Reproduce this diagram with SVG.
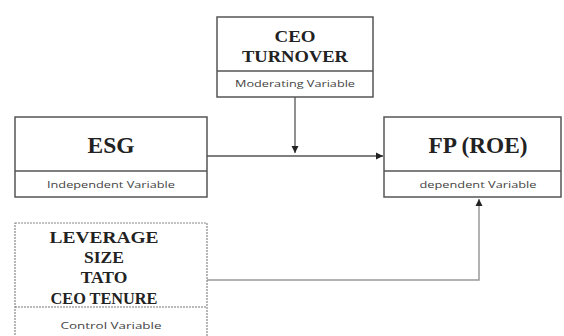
<svg xmlns="http://www.w3.org/2000/svg" width="564" height="336" viewBox="0 0 564 336">
<style>
.box{fill:#fff;stroke:#555;stroke-width:1.5}
.cbox{fill:#fff;stroke:#888;stroke-width:1.2;stroke-dasharray:2 1}
.div{stroke:#555;stroke-width:1.5}
.cdiv{stroke:#777;stroke-width:1.2;stroke-dasharray:2 1}
.t{font-family:"Liberation Serif",serif;font-weight:bold;fill:#222;text-anchor:middle}
.s{font-family:"Open Sans","Liberation Sans",sans-serif;font-size:9.5px;fill:#444;text-anchor:middle}
.c{fill:none;stroke:#555;stroke-width:1.3}
.cg{fill:none;stroke:#999;stroke-width:1.5}
</style>
<defs>
<marker id="ah" markerWidth="8" markerHeight="8" refX="7" refY="4" orient="auto" markerUnits="userSpaceOnUse">
<path d="M0,0.5 L7,4 L0,7.5 Z" fill="#222"/>
</marker>
</defs>
<g id="connectors">
<path class="c" d="M207,156 H383" marker-end="url(#ah)"/>
<path class="c" d="M295,97 V153" marker-end="url(#ah)"/>
<path class="cg" d="M207,280 H479 V199" marker-end="url(#ah)"/>
</g>
<g id="ceo_turnover">
<rect class="box" x="217" y="17" width="156" height="80"/>
<line class="div" x1="217" y1="71" x2="373" y2="71"/>
<text class="t" x="295" y="42" font-size="17.5" textLength="41" lengthAdjust="spacingAndGlyphs">CEO</text>
<text class="t" x="295" y="62" font-size="17.5" textLength="106" lengthAdjust="spacingAndGlyphs">TURNOVER</text>
<text class="s" x="295" y="87" textLength="120" lengthAdjust="spacingAndGlyphs">Moderating Variable</text>
</g>
<g id="esg">
<rect class="box" x="15" y="117" width="192" height="80"/>
<line class="div" x1="15" y1="171" x2="207" y2="171"/>
<text class="t" x="111" y="153" font-size="22.5" textLength="47" lengthAdjust="spacingAndGlyphs">ESG</text>
<text class="s" x="111" y="188" textLength="128" lengthAdjust="spacingAndGlyphs">Independent Variable</text>
</g>
<g id="fp_roe">
<rect class="box" x="384" y="117" width="177" height="80"/>
<line class="div" x1="384" y1="171" x2="561" y2="171"/>
<text class="t" x="478" y="153" font-size="22.5" textLength="99" lengthAdjust="spacingAndGlyphs">FP (ROE)</text>
<text class="s" x="478" y="188" textLength="117" lengthAdjust="spacingAndGlyphs">dependent Variable</text>
</g>
<g id="control">
<rect class="cbox" x="15" y="223" width="192" height="125"/>
<line class="cdiv" x1="15" y1="307" x2="207" y2="307"/>
<text class="t" x="104" y="243" font-size="17.5" textLength="109" lengthAdjust="spacingAndGlyphs">LEVERAGE</text>
<text class="t" x="104" y="263" font-size="17.5">SIZE</text>
<text class="t" x="104" y="283" font-size="17.5">TATO</text>
<text class="t" x="104" y="304" font-size="17.5" textLength="107" lengthAdjust="spacingAndGlyphs">CEO TENURE</text>
<text class="s" x="111" y="329" textLength="101" lengthAdjust="spacingAndGlyphs">Control Variable</text>
</g>
</svg>
